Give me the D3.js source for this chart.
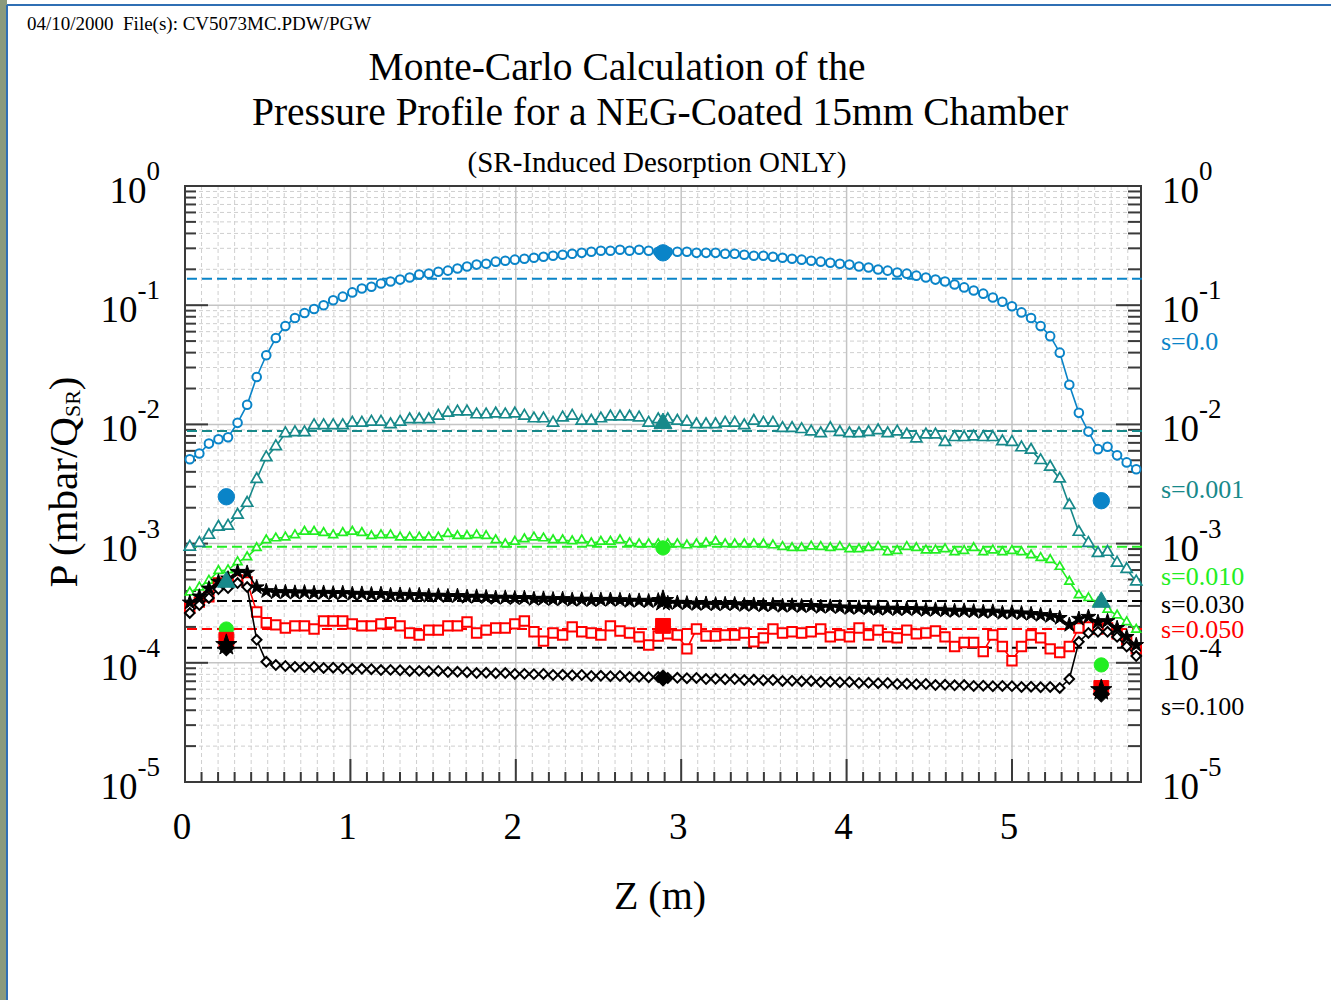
<!DOCTYPE html>
<html><head><meta charset="utf-8">
<script src="https://cdn.jsdelivr.net/npm/d3@7"></script>
<style>
body{margin:0;background:#fff;overflow:hidden}
svg{display:block}
text{font-family:"Liberation Serif","Times New Roman",serif}
</style>
</head><body>
<svg id="chart" width="1331" height="1000"></svg>
<script>
// ---------------- DATA ----------------
const N_BINS = 100, Z_MAX = 5.78;                       // chamber length (m), 100 MC bins
const Z = d3.range(N_BINS).map(i => (i + 0.5) * Z_MAX / N_BINS);
const xTickValues = [0, 1, 2, 3, 4, 5];
const yDecades = [1, 1e-1, 1e-2, 1e-3, 1e-4, 1e-5];
const yDecadeExp = ["0", "-1", "-2", "-3", "-4", "-5"];
const seriesNames = ["s=0.0", "s=0.001", "s=0.010", "s=0.030", "s=0.050", "s=0.100"];

const pS0 = [0.0051,0.0057,0.0069,0.0075,0.0078,0.0103,0.0146,0.025,0.038,0.053,
 0.067,0.078,0.086,0.093,0.100,0.110,0.118,0.128,0.138,0.143,
 0.152,0.158,0.164,0.171,0.181,0.184,0.191,0.195,0.203,0.211,
 0.219,0.223,0.232,0.236,0.241,0.245,0.250,0.255,0.260,0.265,
 0.270,0.275,0.281,0.286,0.286,0.292,0.286,0.292,0.286,0.281,
 0.281,0.281,0.281,0.275,0.275,0.275,0.270,0.270,0.265,0.260,
 0.260,0.255,0.250,0.245,0.241,0.236,0.232,0.227,0.223,0.219,
 0.211,0.207,0.199,0.195,0.188,0.184,0.177,0.171,0.164,0.158,
 0.149,0.141,0.133,0.125,0.116,0.107,0.098,0.087,0.078,0.067,
 0.055,0.040,0.0215,0.0125,0.0087,0.0062,0.0065,0.0055,0.0048,0.0042];

const pS001 = [0.00094,0.00101,0.00118,0.00138,0.00141,0.00174,0.00219,0.00347,0.00529,0.00654,
 0.00841,0.00857,0.00857,0.00981,0.00981,0.00981,0.00981,0.0103,0.0103,0.0105,
 0.0105,0.0100,0.0105,0.0110,0.0110,0.0110,0.0118,0.0125,0.0128,0.0128,
 0.0121,0.0121,0.0123,0.0121,0.0123,0.0118,0.0112,0.0112,0.0103,0.0114,
 0.0118,0.0107,0.0107,0.0112,0.0116,0.0116,0.0116,0.0114,0.0103,0.0110,
 0.0110,0.0107,0.0105,0.0100,0.0100,0.0100,0.0103,0.0103,0.0098,0.0107,
 0.0103,0.0103,0.0093,0.0093,0.0091,0.0087,0.0084,0.0093,0.0086,0.0084,
 0.0084,0.0086,0.0089,0.0084,0.0087,0.0082,0.0076,0.0082,0.0082,0.0071,
 0.0078,0.0078,0.0079,0.0078,0.0078,0.0072,0.0071,0.0064,0.0061,0.0050,
 0.0044,0.0035,0.0021,0.00125,0.00101,0.00083,0.00085,0.00069,0.00061,0.00048];

const pS010 = [3.9e-4,4.3e-4,4.9e-4,5.9e-4,6.0e-4,7.0e-4,7.7e-4,9.2e-4,1.07e-3,1.11e-3,
 1.13e-3,1.18e-3,1.26e-3,1.26e-3,1.23e-3,1.18e-3,1.23e-3,1.26e-3,1.23e-3,1.16e-3,
 1.18e-3,1.18e-3,1.13e-3,1.13e-3,1.13e-3,1.13e-3,1.13e-3,1.21e-3,1.16e-3,1.16e-3,
 1.18e-3,1.16e-3,1.07e-3,0.99e-3,1.04e-3,1.09e-3,1.13e-3,1.11e-3,1.07e-3,1.07e-3,
 1.05e-3,1.07e-3,1.01e-3,1.04e-3,1.04e-3,1.07e-3,1.01e-3,0.99e-3,0.99e-3,0.99e-3,
 0.99e-3,0.99e-3,0.97e-3,0.99e-3,1.01e-3,1.04e-3,0.99e-3,0.99e-3,0.99e-3,0.99e-3,
 0.99e-3,0.97e-3,0.94e-3,0.92e-3,0.92e-3,0.95e-3,0.94e-3,0.92e-3,0.94e-3,0.90e-3,
 0.90e-3,0.92e-3,0.94e-3,0.85e-3,0.87e-3,0.94e-3,0.92e-3,0.88e-3,0.88e-3,0.90e-3,
 0.85e-3,0.87e-3,0.92e-3,0.85e-3,0.88e-3,0.85e-3,0.87e-3,0.85e-3,0.80e-3,0.76e-3,
 0.73e-3,0.64e-3,0.48e-3,0.37e-3,0.35e-3,0.32e-3,0.28e-3,0.25e-3,0.22e-3,0.19e-3];

const pS030 = [3.2e-4,3.6e-4,4.2e-4,4.8e-4,5.1e-4,5.8e-4,5.7e-4,4.3e-4,4.0e-4,3.9e-4,
 3.92e-4,3.88e-4,3.9e-4,3.85e-4,3.87e-4,3.82e-4,3.85e-4,3.78e-4,3.8e-4,3.76e-4,
 3.78e-4,3.7e-4,3.72e-4,3.68e-4,3.7e-4,3.64e-4,3.66e-4,3.62e-4,3.64e-4,3.57e-4,
 3.59e-4,3.55e-4,3.5e-4,3.52e-4,3.48e-4,3.5e-4,3.43e-4,3.45e-4,3.41e-4,3.43e-4,
 3.37e-4,3.39e-4,3.35e-4,3.37e-4,3.38e-4,3.36e-4,3.3e-4,3.32e-4,3.28e-4,3.34e-4,
 3.17e-4,3.19e-4,3.15e-4,3.11e-4,3.13e-4,3.09e-4,3.11e-4,3.1e-4,3.05e-4,3.07e-4,
 3.03e-4,3.05e-4,3.0e-4,3.02e-4,2.98e-4,3.0e-4,2.94e-4,2.96e-4,2.92e-4,2.88e-4,
 2.9e-4,2.86e-4,2.83e-4,2.85e-4,2.81e-4,2.83e-4,2.82e-4,2.77e-4,2.79e-4,2.75e-4,
 2.72e-4,2.74e-4,2.7e-4,2.67e-4,2.69e-4,2.62e-4,2.64e-4,2.6e-4,2.57e-4,2.52e-4,
 2.47e-4,2.38e-4,2.08e-4,2.34e-4,2.43e-4,2.20e-4,2.24e-4,1.96e-4,1.65e-4,1.41e-4];

const pS050 = [2.88e-4,3.23e-4,3.57e-4,4.67e-4,4.76e-4,4.95e-4,4.76e-4,2.67e-4,2.17e-4,2.08e-4,
 1.96e-4,2.04e-4,2.04e-4,1.92e-4,2.24e-4,2.24e-4,2.24e-4,2.12e-4,2.04e-4,2.04e-4,
 2.12e-4,2.17e-4,2.04e-4,1.78e-4,1.71e-4,1.88e-4,1.88e-4,2.04e-4,2.04e-4,2.20e-4,
 1.78e-4,1.88e-4,1.96e-4,1.96e-4,2.12e-4,2.24e-4,1.82e-4,1.52e-4,1.78e-4,1.71e-4,
 2.00e-4,1.82e-4,1.78e-4,1.71e-4,2.04e-4,1.85e-4,1.78e-4,1.65e-4,1.41e-4,1.68e-4,
 1.75e-4,1.71e-4,1.31e-4,1.92e-4,1.68e-4,1.68e-4,1.71e-4,1.71e-4,1.78e-4,1.50e-4,
 1.62e-4,1.92e-4,1.78e-4,1.82e-4,1.78e-4,1.82e-4,1.92e-4,1.65e-4,1.71e-4,1.65e-4,
 1.96e-4,1.71e-4,1.88e-4,1.65e-4,1.62e-4,1.88e-4,1.75e-4,1.78e-4,1.85e-4,1.65e-4,
 1.37e-4,1.48e-4,1.48e-4,1.24e-4,1.71e-4,1.37e-4,1.04e-4,1.37e-4,1.71e-4,1.62e-4,
 1.31e-4,1.22e-4,1.37e-4,1.96e-4,2.00e-4,1.92e-4,1.96e-4,1.75e-4,1.56e-4,1.31e-4];

const pS100 = [2.62e-4,3.05e-4,3.50e-4,4.16e-4,4.24e-4,4.67e-4,4.32e-4,1.56e-4,1.02e-4,0.958e-4,
 0.94e-4,0.925e-4,0.92e-4,0.922e-4,0.905e-4,0.91e-4,0.9e-4,0.887e-4,0.89e-4,0.884e-4,
 0.87e-4,0.872e-4,0.866e-4,0.854e-4,0.856e-4,0.85e-4,0.854e-4,0.837e-4,0.84e-4,0.834e-4,
 0.821e-4,0.824e-4,0.818e-4,0.821e-4,0.806e-4,0.808e-4,0.803e-4,0.806e-4,0.79e-4,0.793e-4,
 0.787e-4,0.79e-4,0.775e-4,0.778e-4,0.772e-4,0.775e-4,0.76e-4,0.763e-4,0.757e-4,0.76e-4,
 0.746e-4,0.749e-4,0.743e-4,0.746e-4,0.731e-4,0.734e-4,0.728e-4,0.731e-4,0.717e-4,0.72e-4,
 0.714e-4,0.717e-4,0.704e-4,0.707e-4,0.701e-4,0.704e-4,0.69e-4,0.693e-4,0.687e-4,0.69e-4,
 0.677e-4,0.68e-4,0.674e-4,0.677e-4,0.664e-4,0.667e-4,0.661e-4,0.664e-4,0.651e-4,0.654e-4,
 0.648e-4,0.651e-4,0.639e-4,0.642e-4,0.636e-4,0.639e-4,0.637e-4,0.627e-4,0.63e-4,0.624e-4,
 0.627e-4,0.615e-4,0.731e-4,1.50e-4,1.78e-4,1.82e-4,1.82e-4,1.65e-4,1.37e-4,1.14e-4];

// average (dashed) levels
const avgLevels = [0.167, 0.0088, 0.00094, 0.00033, 0.000192, 0.000134];
// large reference markers
const refZ = [0.25, 2.89, 5.54];
const refS0   = [2.47e-3, 0.275, 2.29e-3];
const refS001 = [4.76e-4, 1.02e-2, 3.23e-4];
const refS010 = [1.92e-4, 9.2e-4, 9.6e-5];
const refS030 = [1.41e-4, 3.30e-4, 5.9e-5];
const refS050 = [1.56e-4, 2.04e-4, 6.15e-5];
const refS100 = [1.34e-4, 7.46e-5, 5.47e-5];

// ---------------- STYLE ----------------
const colors = ["#0a84c8", "#17898a", "#22ee22", "#000000", "#ff0000", "#000000"];
const labelY = [350, 498, 585, 613, 638, 715];

const svg = d3.select("#chart");
const M = {left: 185, right: 1141, top: 186, bottom: 782};
const x = d3.scaleLinear().domain([0, Z_MAX]).range([M.left, M.right]);
const y = d3.scaleLog().domain([1, 1e-5]).range([M.top, M.bottom]);

// page decoration
svg.append("rect").attr("x", 0).attr("y", 0).attr("width", 7).attr("height", 1000).attr("fill", "#8a9a7c");
svg.append("line").attr("x1", 7).attr("x2", 1331).attr("y1", 5).attr("y2", 5).attr("stroke", "#2f6fb4").attr("stroke-width", 2);
svg.append("line").attr("x1", 7).attr("x2", 7).attr("y1", 5).attr("y2", 1000).attr("stroke", "#2f6fb4").attr("stroke-width", 2);

svg.append("text").attr("x", 27).attr("y", 30).attr("font-size", 19)
  .attr("xml:space", "preserve").style("white-space", "pre")
  .text("04/10/2000  File(s): CV5073MC.PDW/PGW");

svg.append("text").attr("x", 617).attr("y", 80).attr("text-anchor", "middle").attr("font-size", 39.5)
  .text("Monte-Carlo Calculation of the");
svg.append("text").attr("x", 660).attr("y", 125).attr("text-anchor", "middle").attr("font-size", 39.5)
  .text("Pressure Profile for a NEG-Coated 15mm Chamber");
svg.append("text").attr("x", 657).attr("y", 172).attr("text-anchor", "middle").attr("font-size", 29)
  .text("(SR-Induced Desorption ONLY)");

// grid
const minorY = [];
yDecades.slice(0, -1).forEach(d => { for (let k = 2; k <= 9; k++) minorY.push(d * k / 10); });
const minorX = d3.range(1, 58).map(i => i / 10).filter(v => Math.abs(v - Math.round(v)) > 1e-6);
const g = svg.append("g");
g.selectAll(".gy").data(minorY).enter().append("line")
  .attr("x1", M.left).attr("x2", M.right).attr("y1", d => y(d)).attr("y2", d => y(d))
  .attr("stroke", "#cfcfcf").attr("stroke-width", 1).attr("stroke-dasharray", "4,3");
g.selectAll(".gx").data(minorX).enter().append("line")
  .attr("y1", M.top).attr("y2", M.bottom).attr("x1", d => x(d)).attr("x2", d => x(d))
  .attr("stroke", "#cfcfcf").attr("stroke-width", 1).attr("stroke-dasharray", "4,3");
g.selectAll(".gY").data(yDecades.slice(1, -1)).enter().append("line")
  .attr("x1", M.left).attr("x2", M.right).attr("y1", d => y(d)).attr("y2", d => y(d))
  .attr("stroke", "#c4c4c4").attr("stroke-width", 1.5);
g.selectAll(".gX").data(xTickValues.slice(1)).enter().append("line")
  .attr("y1", M.top).attr("y2", M.bottom).attr("x1", d => x(d)).attr("x2", d => x(d))
  .attr("stroke", "#c4c4c4").attr("stroke-width", 1.5);

// ticks
const axisCol = "#3a3a3a";
const tk = svg.append("g").attr("stroke", axisCol).attr("stroke-width", 2);
minorY.forEach(v => {
  tk.append("line").attr("x1", M.left).attr("x2", M.left + 11).attr("y1", y(v)).attr("y2", y(v));
  tk.append("line").attr("x1", M.right).attr("x2", M.right - 13).attr("y1", y(v)).attr("y2", y(v));
});
yDecades.forEach(v => {
  tk.append("line").attr("x1", M.left).attr("x2", M.left + 23).attr("y1", y(v)).attr("y2", y(v));
  tk.append("line").attr("x1", M.right).attr("x2", M.right - 25).attr("y1", y(v)).attr("y2", y(v));
});
minorX.forEach(v => tk.append("line").attr("x1", x(v)).attr("x2", x(v)).attr("y1", M.bottom).attr("y2", M.bottom - 10));
xTickValues.forEach(v => tk.append("line").attr("x1", x(v)).attr("x2", x(v)).attr("y1", M.bottom).attr("y2", M.bottom - 23));

// frame
svg.append("rect").attr("x", M.left).attr("y", M.top).attr("width", M.right - M.left).attr("height", M.bottom - M.top)
  .attr("fill", "none").attr("stroke", axisCol).attr("stroke-width", 2);

// tick labels
yDecades.forEach((v, i) => {
  [[160, "end"], [1162, "start"]].forEach(([xx, anc]) => {
    const t = svg.append("text").attr("x", xx).attr("y", y(v) + 17).attr("text-anchor", anc).attr("font-size", 37);
    t.append("tspan").text("10");
    t.append("tspan").attr("dy", -23).attr("font-size", 27).text(yDecadeExp[i]);
  });
});
svg.selectAll(".xl").data(xTickValues).enter().append("text")
  .attr("x", d => x(d) - 3).attr("y", 839).attr("text-anchor", "middle").attr("font-size", 37).text(d => d);

// axis titles
svg.append("text").attr("x", 660).attr("y", 909).attr("text-anchor", "middle").attr("font-size", 40).text("Z (m)");
const yl = svg.append("text").attr("transform", "translate(77,482) rotate(-90)").attr("text-anchor", "middle").attr("font-size", 41);
yl.append("tspan").text("P (mbar/Q");
yl.append("tspan").attr("font-size", 22).attr("dy", 3).text("SR");
yl.append("tspan").attr("dy", -3).text(")");

// series
const series = [pS0, pS001, pS010, pS030, pS050, pS100];
const refs = [refS0, refS001, refS010, refS030, refS050, refS100];
const sym = [
  {type: d3.symbolCircle, size: 58, fill: "#fff", sw: 2, rot: 0},
  {type: d3.symbolTriangle, size: 54, fill: "#fff", sw: 1.7, rot: 0},
  {type: d3.symbolTriangle, size: 34, fill: "#fff", sw: 1.7, rot: 0},
  {type: d3.symbolStar, size: 68, fill: "#000", sw: 1, rot: 0},
  {type: d3.symbolSquare, size: 88, fill: "#fff", sw: 2, rot: 0},
  {type: d3.symbolSquare, size: 46, fill: "#fff", sw: 2, rot: 45}
];
const bigSym = [
  {type: d3.symbolCircle, size: 210, rot: 0},
  {type: d3.symbolTriangle, size: 140, rot: 0},
  {type: d3.symbolCircle, size: 160, rot: 0},
  {type: d3.symbolStar, size: 140, rot: 0},
  {type: d3.symbolSquare, size: 220, rot: 0},
  {type: d3.symbolSquare, size: 130, rot: 45}
];

// dashed average levels
svg.selectAll(".avg").data(avgLevels).enter().append("line")
  .attr("x1", M.left + 2).attr("x2", M.right + 3).attr("y1", d => y(d)).attr("y2", d => y(d))
  .attr("stroke", (d, i) => colors[i]).attr("stroke-width", 2).attr("stroke-dasharray", "10,5");

const line = d3.line().x((d, i) => x(Z[i])).y(d => y(d));
const drawOrder = [0, 1, 2, 4, 3, 5];
drawOrder.forEach(si => {
  const gs = svg.append("g");
  gs.append("path").datum(series[si]).attr("d", line).attr("fill", "none")
    .attr("stroke", colors[si]).attr("stroke-width", 1.6);
  gs.selectAll("path.m").data(series[si]).enter().append("path").attr("class", "m")
    .attr("d", d3.symbol().type(sym[si].type).size(sym[si].size))
    .attr("transform", (d, i) => `translate(${x(Z[i])},${y(d)}) rotate(${sym[si].rot})`)
    .attr("fill", sym[si].fill).attr("stroke", colors[si]).attr("stroke-width", sym[si].sw);
});
drawOrder.forEach(si => {
  svg.append("g").selectAll("path").data(refs[si]).enter().append("path")
    .attr("d", d3.symbol().type(bigSym[si].type).size(bigSym[si].size))
    .attr("transform", (d, i) => `translate(${x(refZ[i])},${y(d)}) rotate(${bigSym[si].rot})`)
    .attr("fill", colors[si]).attr("stroke", colors[si]).attr("stroke-width", 1);
});

// right labels
svg.selectAll(".sl").data(seriesNames).enter().append("text")
  .attr("x", 1161).attr("y", (d, i) => labelY[i]).attr("font-size", 26)
  .attr("fill", (d, i) => colors[i]).text(d => d);
</script>
</body></html>
